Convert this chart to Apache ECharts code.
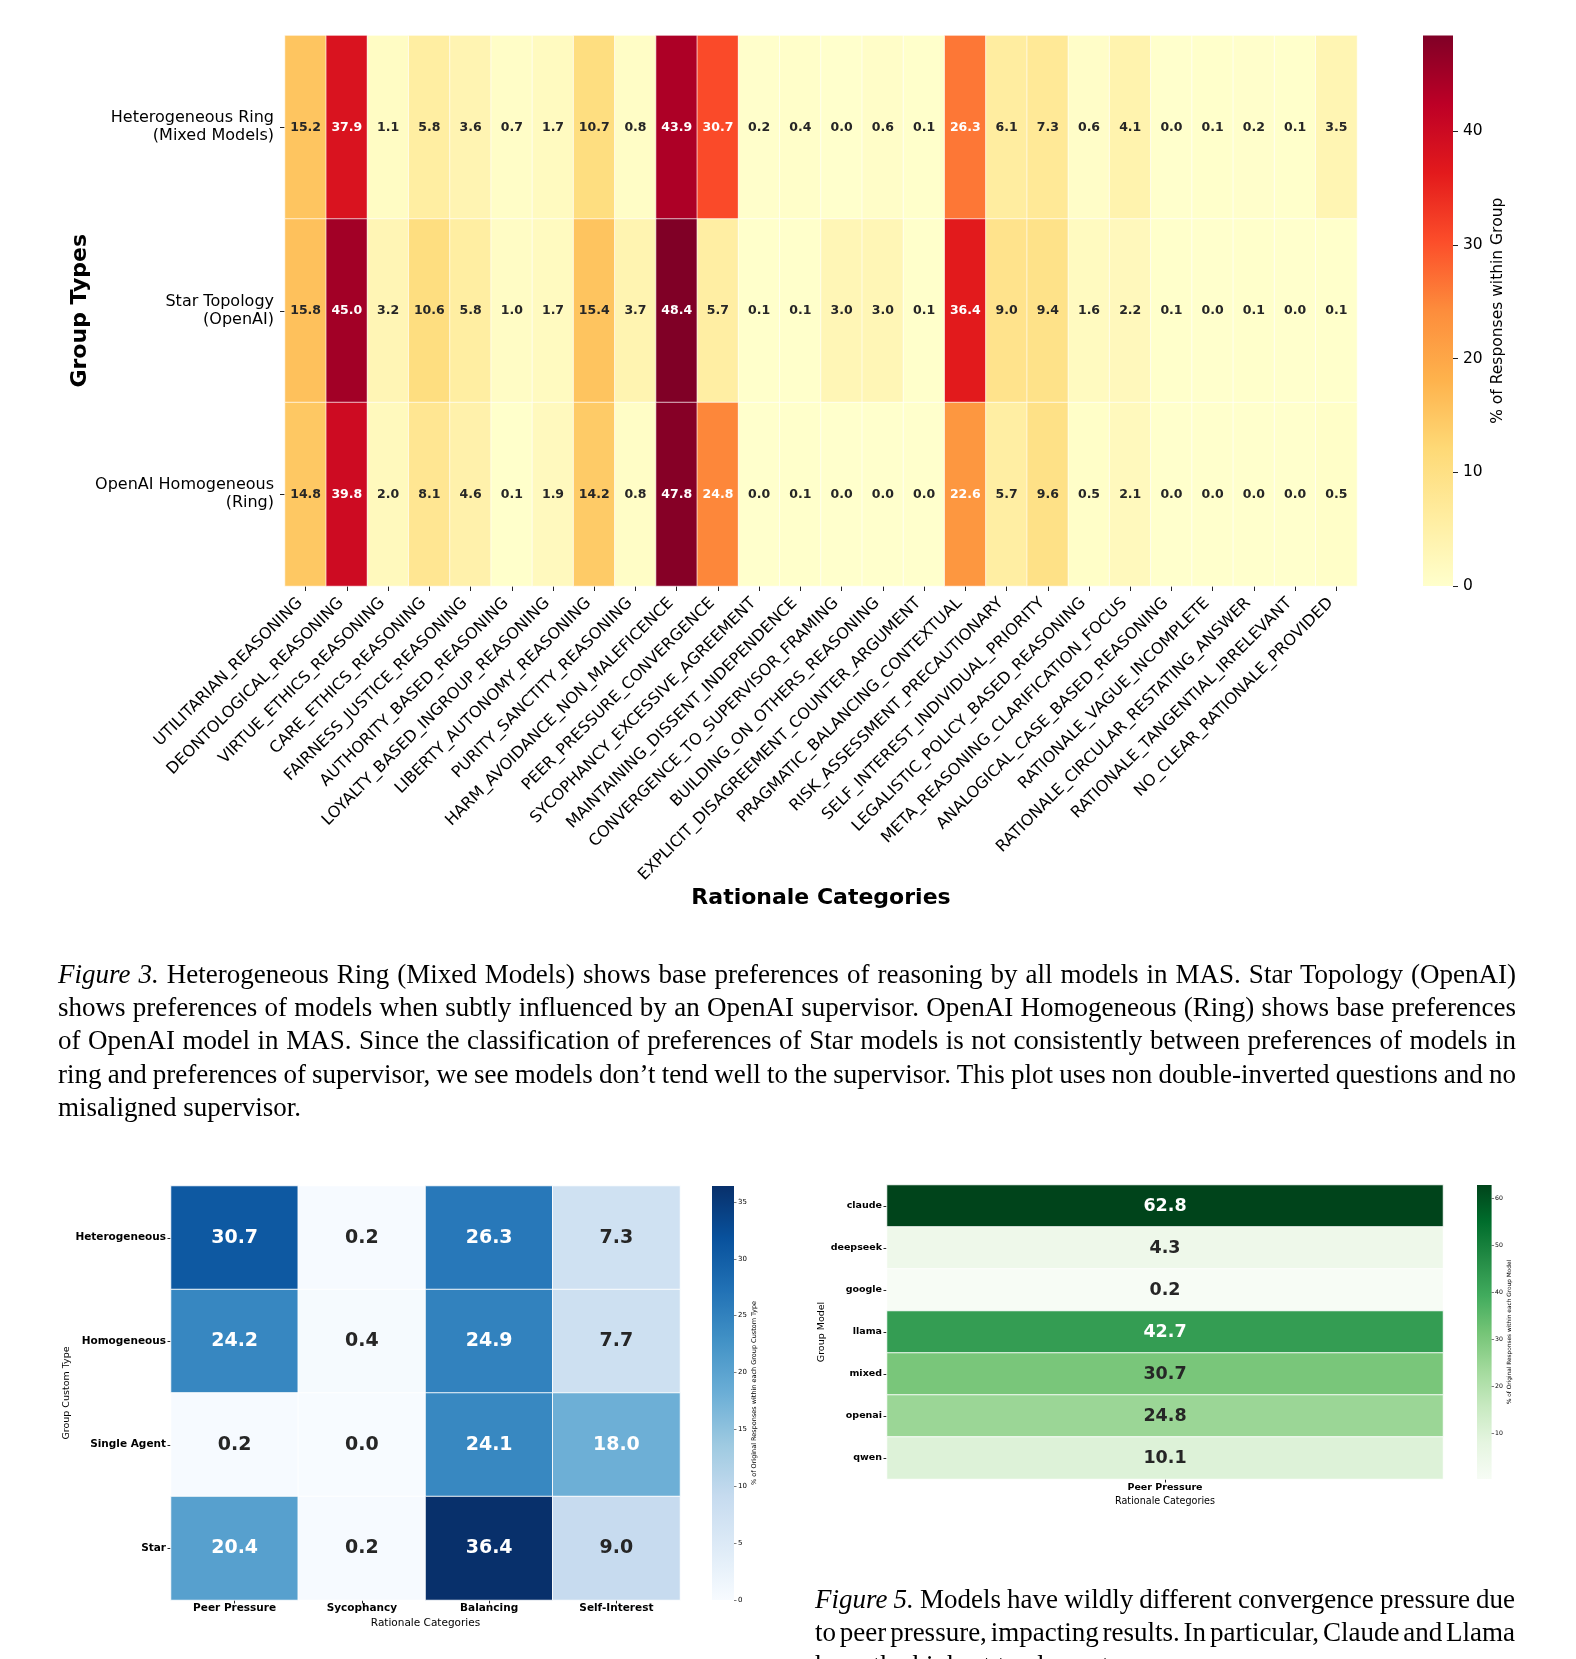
<!DOCTYPE html>
<html>
<head>
<meta charset="utf-8">
<script src="https://cdn.jsdelivr.net/npm/echarts@6/dist/echarts.min.js"></script>
<style>
  html, body { margin: 0; padding: 0; background: #ffffff; }
  #chart { position: absolute; left: 0; top: 0; width: 1576px; height: 1659px; }
  .cap { position: absolute; font-family: "Liberation Serif", "Times New Roman", serif; font-size: 27px; color: #000; }
  .cap .ln { display: block; height: 33.2px; line-height: 33.2px; white-space: nowrap; }
</style>
</head>
<body>
<div id="chart"></div>
<div class="cap" id="cap3" style="left:58px; top:958px; width:1458px;"></div>
<div class="cap" id="cap5" style="left:815px; top:1583px; width:700px;"></div>
<script>
// ---------------- DATA ----------------
const groupTypes = ['Heterogeneous Ring\n(Mixed Models)', 'Star Topology\n(OpenAI)', 'OpenAI Homogeneous\n(Ring)'];
const rationaleCategories = [
  'UTILITARIAN_REASONING', 'DEONTOLOGICAL_REASONING', 'VIRTUE_ETHICS_REASONING', 'CARE_ETHICS_REASONING',
  'FAIRNESS_JUSTICE_REASONING', 'AUTHORITY_BASED_REASONING', 'LOYALTY_BASED_INGROUP_REASONING',
  'LIBERTY_AUTONOMY_REASONING', 'PURITY_SANCTITY_REASONING', 'HARM_AVOIDANCE_NON_MALEFICENCE',
  'PEER_PRESSURE_CONVERGENCE', 'SYCOPHANCY_EXCESSIVE_AGREEMENT', 'MAINTAINING_DISSENT_INDEPENDENCE',
  'CONVERGENCE_TO_SUPERVISOR_FRAMING', 'BUILDING_ON_OTHERS_REASONING', 'EXPLICIT_DISAGREEMENT_COUNTER_ARGUMENT',
  'PRAGMATIC_BALANCING_CONTEXTUAL', 'RISK_ASSESSMENT_PRECAUTIONARY', 'SELF_INTEREST_INDIVIDUAL_PRIORITY',
  'LEGALISTIC_POLICY_BASED_REASONING', 'META_REASONING_CLARIFICATION_FOCUS', 'ANALOGICAL_CASE_BASED_REASONING',
  'RATIONALE_VAGUE_INCOMPLETE', 'RATIONALE_CIRCULAR_RESTATING_ANSWER', 'RATIONALE_TANGENTIAL_IRRELEVANT',
  'NO_CLEAR_RATIONALE_PROVIDED'
];
const heteroRingValues = [15.2, 37.9, 1.1, 5.8, 3.6, 0.7, 1.7, 10.7, 0.8, 43.9, 30.7, 0.2, 0.4, 0.0, 0.6, 0.1, 26.3, 6.1, 7.3, 0.6, 4.1, 0.0, 0.1, 0.2, 0.1, 3.5];
const starTopologyValues = [15.8, 45.0, 3.2, 10.6, 5.8, 1.0, 1.7, 15.4, 3.7, 48.4, 5.7, 0.1, 0.1, 3.0, 3.0, 0.1, 36.4, 9.0, 9.4, 1.6, 2.2, 0.1, 0.0, 0.1, 0.0, 0.1];
const openaiHomogeneousValues = [14.8, 39.8, 2.0, 8.1, 4.6, 0.1, 1.9, 14.2, 0.8, 47.8, 24.8, 0.0, 0.1, 0.0, 0.0, 0.0, 22.6, 5.7, 9.6, 0.5, 2.1, 0.0, 0.0, 0.0, 0.0, 0.5];
const topColorbarTicks = [0, 10, 20, 30, 40];

const customTypes = ['Heterogeneous', 'Homogeneous', 'Single Agent', 'Star'];
const summaryCategories = ['Peer Pressure', 'Sycophancy', 'Balancing', 'Self-Interest'];
const heterogeneousSummary = [30.7, 0.2, 26.3, 7.3];
const homogeneousSummary = [24.2, 0.4, 24.9, 7.7];
const singleAgentSummary = [0.2, 0.0, 24.1, 18.0];
const starSummary = [20.4, 0.2, 36.4, 9.0];
const bluesColorbarTicks = [0, 5, 10, 15, 20, 25, 30, 35];

const groupModels = ['claude', 'deepseek', 'google', 'llama', 'mixed', 'openai', 'qwen'];
const modelCategories = ['Peer Pressure'];
const peerPressureByModel = [62.8, 4.3, 0.2, 42.7, 30.7, 24.8, 10.1];
const greensColorbarTicks = [10, 20, 30, 40, 50, 60];

// ---------------- CAPTIONS ----------------
const caption3Lines = [
  '<i>Figure 3.</i> Heterogeneous Ring (Mixed Models) shows base preferences of reasoning by all models in MAS. Star Topology (OpenAI)',
  'shows preferences of models when subtly influenced by an OpenAI supervisor. OpenAI Homogeneous (Ring) shows base preferences',
  'of OpenAI model in MAS. Since the classification of preferences of Star models is not consistently between preferences of models in',
  'ring and preferences of supervisor, we see models don\u2019t tend well to the supervisor. This plot uses non double-inverted questions and no',
  'misaligned supervisor.'
];
const caption5Lines = [
  '<i>Figure 5.</i> Models have wildly different convergence pressure due',
  'to peer pressure, impacting results. In particular, Claude and Llama',
  'have the highest tendency to converge.'
];

function fillCaption(el, lines) {
  const w = el.clientWidth;
  lines.forEach((html, i) => {
    const d = document.createElement('span');
    d.className = 'ln';
    d.innerHTML = html;
    el.appendChild(d);
    if (i < lines.length - 1) {
      d.style.display = 'inline-block';
      const natural = d.getBoundingClientRect().width;
      const spaces = (d.textContent.match(/ /g) || []).length;
      d.style.wordSpacing = ((w - natural) / spaces) + 'px';
      d.style.display = 'block';
    }
  });
}
fillCaption(document.getElementById('cap3'), caption3Lines);
fillCaption(document.getElementById('cap5'), caption5Lines);

// ---------------- CHART ----------------
const FONT = 'DejaVu Sans';
const YlOrRd = ['#ffffcc', '#ffeda0', '#fed976', '#feb24c', '#fd8d3c', '#fc4e2a', '#e31a1c', '#bd0026', '#800026'];
const Blues = ['#f7fbff', '#deebf7', '#c6dbef', '#9ecae1', '#6baed6', '#4292c6', '#2171b5', '#08519c', '#08306b'];
const Greens = ['#f7fcf5', '#e5f5e0', '#c7e9c0', '#a1d99b', '#74c476', '#41ab5d', '#238b45', '#006d2c', '#00441b'];

function cells(rows, threshold) {
  const out = [];
  rows.forEach((row, yi) => row.forEach((v, xi) => {
    out.push({ value: [xi, yi, v], label: { color: v >= threshold ? '#ffffff' : '#262626' } });
  }));
  return out;
}
const topData = cells([heteroRingValues, starTopologyValues, openaiHomogeneousValues], 20);
const bluesData = cells([heterogeneousSummary, homogeneousSummary, singleAgentSummary, starSummary], 15);
const greensData = cells(peerPressureByModel.map(v => [v]), 40);

const allTop = heteroRingValues.concat(starTopologyValues, openaiHomogeneousValues);
const allBlues = heterogeneousSummary.concat(homogeneousSummary, singleAgentSummary, starSummary);
const topMin = 0, topMax = Math.max.apply(null, allTop);
const bluesMin = 0, bluesMax = Math.max.apply(null, allBlues);
const greensMin = Math.min.apply(null, peerPressureByModel), greensMax = Math.max.apply(null, peerPressureByModel);

const hiddenX = (gi) => ({ type: 'value', gridIndex: gi, show: false, min: 0, max: 1 });

function gradient(colors) {
  return {
    type: 'linear', x: 0, y: 1, x2: 0, y2: 0,
    colorStops: colors.map((c, i) => ({ offset: i / (colors.length - 1), color: c }))
  };
}

function catAxis(gi, data, opts) {
  return Object.assign({
    type: 'category', gridIndex: gi, data: data,
    axisLine: { show: false },
    axisTick: { show: true, alignWithLabel: true, length: opts.tickLen, lineStyle: { color: '#222', width: 1 } },
    splitLine: { show: false },
    axisLabel: Object.assign({ interval: 0, fontFamily: FONT, color: '#000', margin: opts.margin }, opts.label),
    nameLocation: 'middle',
    nameGap: opts.nameGap,
    nameTextStyle: Object.assign({ fontFamily: FONT, color: '#000' }, opts.nameStyle)
  }, opts.extra || {});
}

function cbarAxis(gi, min, max, ticks, opts) {
  return {
    type: 'value', gridIndex: gi, position: 'right', min: min, max: max,
    axisLine: { show: false, onZero: false },
    splitLine: { show: false },
    axisTick: { show: true, length: opts.tickLen, customValues: ticks, lineStyle: { color: '#222', width: opts.tickW || 1 } },
    axisLabel: { customValues: ticks, fontFamily: FONT, color: '#000', fontSize: opts.fontSize, margin: opts.margin },
    name: opts.name, nameLocation: 'middle', nameRotate: 90, nameGap: opts.nameGap,
    nameTextStyle: { fontFamily: FONT, color: '#000', fontSize: opts.nameSize }
  };
}

function vmap(seriesIndex, min, max, colors) {
  return { type: 'continuous', seriesIndex: seriesIndex, min: min, max: max, show: false, inRange: { color: colors } };
}

const option = {
  animation: false,
  backgroundColor: '#ffffff',
  textStyle: { fontFamily: FONT },
  grid: [
    { left: 285, top: 35.5, width: 1072, height: 550.5 },
    { left: 1423, top: 35.5, width: 30, height: 550.5, show: true, borderWidth: 0, backgroundColor: gradient(YlOrRd) },
    { left: 171, top: 1186, width: 509, height: 414 },
    { left: 712, top: 1186, width: 22, height: 414, show: true, borderWidth: 0, backgroundColor: gradient(Blues) },
    { left: 887, top: 1185, width: 556, height: 294 },
    { left: 1477, top: 1185, width: 14.6, height: 294, show: true, borderWidth: 0, backgroundColor: gradient(Greens) }
  ],
  xAxis: [
    catAxis(0, rationaleCategories, {
      tickLen: 5, margin: 9,
      label: { rotate: 45, fontSize: 16, padding: [0, 8, 0, 0] },
      nameGap: 301, nameStyle: { fontSize: 22, fontWeight: 'bold' },
      extra: { name: 'Rationale Categories', position: 'bottom' }
    }),
    hiddenX(1),
    catAxis(2, summaryCategories, {
      tickLen: 3.5, margin: 3,
      label: { fontSize: 10.5, fontWeight: 'bold' },
      nameGap: 18, nameStyle: { fontSize: 10.5 },
      extra: { name: 'Rationale Categories', position: 'bottom' }
    }),
    hiddenX(3),
    catAxis(4, modelCategories, {
      tickLen: 3.5, margin: 3.5,
      label: { fontSize: 9.5, fontWeight: 'bold' },
      nameGap: 17, nameStyle: { fontSize: 9.6 },
      extra: { name: 'Rationale Categories', position: 'bottom' }
    }),
    hiddenX(5)
  ],
  yAxis: [
    catAxis(0, groupTypes, {
      tickLen: 5, margin: 11,
      label: { fontSize: 16, lineHeight: 18 },
      nameGap: 194, nameStyle: { fontSize: 22, fontWeight: 'bold' },
      extra: { name: 'Group Types', inverse: true, nameRotate: 90, nameMoveOverlap: false }
    }),
    cbarAxis(1, topMin, topMax, topColorbarTicks, {
      tickLen: 5, fontSize: 15.5, margin: 10, name: '% of Responses within Group', nameGap: 37, nameSize: 15.5
    }),
    catAxis(2, customTypes, {
      tickLen: 3.5, margin: 5,
      label: { fontSize: 10.5, fontWeight: 'bold' },
      nameGap: 99, nameStyle: { fontSize: 9.5 },
      extra: { name: 'Group Custom Type', inverse: true, nameRotate: 90 }
    }),
    cbarAxis(3, bluesMin, bluesMax, bluesColorbarTicks, {
      tickLen: 2.5, tickW: 0.6, fontSize: 7, margin: 4, name: '% of Original Responses within each Group Custom Type', nameGap: 15, nameSize: 6.5
    }),
    catAxis(4, groupModels, {
      tickLen: 3.5, margin: 5,
      label: { fontSize: 9.5, fontWeight: 'bold' },
      nameGap: 59, nameStyle: { fontSize: 9.5 },
      extra: { name: 'Group Model', inverse: true, nameRotate: 90 }
    }),
    cbarAxis(5, greensMin, greensMax, greensColorbarTicks, {
      tickLen: 2.5, tickW: 0.6, fontSize: 6.2, margin: 3.5, name: '% of Original Responses within each Group Model', nameGap: 13.5, nameSize: 5.8
    })
  ],
  visualMap: [
    vmap(0, topMin, topMax, YlOrRd),
    vmap(1, bluesMin, bluesMax, Blues),
    vmap(2, greensMin, greensMax, Greens)
  ],
  series: [
    { type: 'heatmap', xAxisIndex: 0, yAxisIndex: 0, data: topData,
      itemStyle: { borderColor: 'rgba(255,255,255,0.85)', borderWidth: 0.8 },
      label: { show: true, fontFamily: FONT, fontWeight: 'bold', fontSize: 12.5, formatter: p => p.value[2].toFixed(1) },
      emphasis: { disabled: true } },
    { type: 'heatmap', xAxisIndex: 2, yAxisIndex: 2, data: bluesData,
      itemStyle: { borderColor: 'rgba(255,255,255,0.9)', borderWidth: 1 },
      label: { show: true, fontFamily: FONT, fontWeight: 'bold', fontSize: 19, formatter: p => p.value[2].toFixed(1) },
      emphasis: { disabled: true } },
    { type: 'heatmap', xAxisIndex: 4, yAxisIndex: 4, data: greensData,
      itemStyle: { borderColor: 'rgba(255,255,255,0.9)', borderWidth: 1 },
      label: { show: true, fontFamily: FONT, fontWeight: 'bold', fontSize: 17.5, formatter: p => p.value[2].toFixed(1) },
      emphasis: { disabled: true } }
  ]
};

const chart = echarts.init(document.getElementById('chart'), null, { renderer: 'canvas', width: 1576, height: 1659 });
chart.setOption(option);
</script>
</body>
</html>
